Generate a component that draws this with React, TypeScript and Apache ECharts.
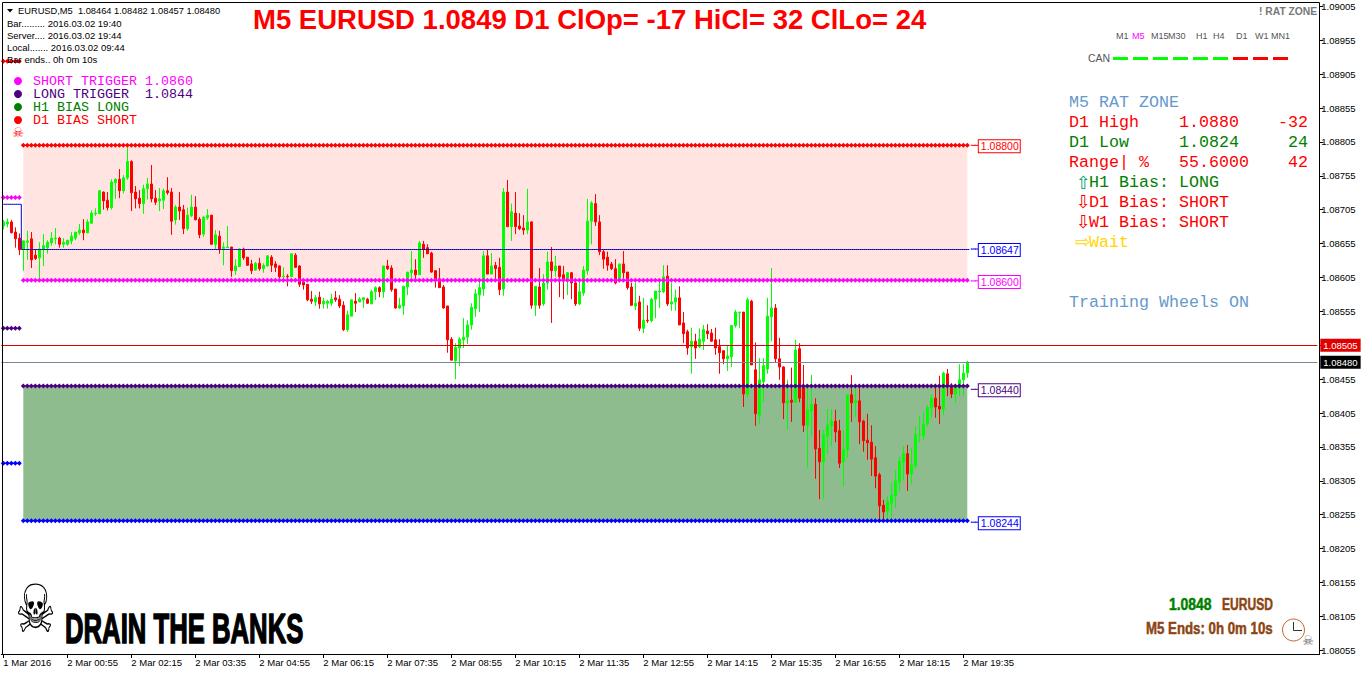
import React, { useEffect, useRef } from "react";
import * as echarts from "echarts";

// Bars as [open, high, low, close] in points (1/100000), EURUSD M5
const ohlcPoints: number[][] = [
[108681,108690,108676,108687],[108684,108692,108679,108687],[108687,108690,108670,108671],[108672,108679,108649,108662],[108663,108670,108638,108646],
[108647,108660,108615,108659],[108657,108674,108631,108659],[108662,108672,108619,108631],[108638,108646,108631,108633],[108634,108657,108604,108647],
[108647,108669,108622,108652],[108649,108660,108640,108657],[108656,108672,108652,108663],[108662,108678,108654,108663],[108663,108665,108649,108654],
[108654,108663,108649,108657],[108654,108660,108652,108660],[108659,108672,108654,108666],[108663,108672,108660,108672],[108671,108684,108668,108675],
[108675,108691,108660,108671],[108671,108691,108670,108687],[108685,108704,108685,108700],[108699,108707,108696,108700],[108699,108734,108699,108733],
[108731,108732,108705,108718],[108719,108731,108704,108708],[108708,108750,108705,108746],[108745,108751,108721,108750],[108750,108765,108722,108733],
[108733,108756,108729,108752],[108752,108797,108749,108776],[108776,108778,108703,108730],[108731,108740,108707,108721],[108722,108734,108707,108714],
[108714,108742,108699,108736],[108736,108752,108720,108743],[108743,108771,108716,108721],[108722,108734,108712,108716],[108718,108737,108703,108721],
[108719,108736,108706,108733],[108733,108753,108727,108730],[108731,108737,108668,108688],[108690,108712,108683,108709],[108709,108731,108690,108703],
[108705,108712,108669,108677],[108677,108708,108674,108697],[108696,108727,108694,108709],[108709,108725,108690,108690],[108691,108694,108663,108668],
[108669,108696,108665,108694],[108693,108706,108690,108697],[108697,108697,108654,108654],[108654,108675,108647,108668],[108666,108674,108640,108647],
[108648,108657,108623,108650],[108649,108681,108649,108650],[108650,108650,108606,108615],[108615,108632,108609,108622],[108621,108648,108621,108647],
[108647,108649,108631,108634],[108635,108635,108622,108623],[108625,108631,108610,108615],[108616,108628,108615,108626],[108626,108634,108615,108618],
[108618,108626,108612,108623],[108622,108638,108621,108637],[108635,108638,108613,108623],[108625,108629,108613,108620],[108622,108623,108604,108606],
[108606,108620,108604,108607],[108607,108610,108592,108606],[108606,108640,108606,108640],[108638,108641,108619,108620],[108622,108623,108591,108595],
[108598,108603,108587,108594],[108595,108595,108570,108572],[108573,108585,108566,108570],[108569,108579,108563,108575],[108576,108584,108559,108566],
[108566,108575,108559,108570],[108567,108572,108559,108570],[108567,108581,108563,108573],[108575,108585,108569,108572],[108573,108579,108560,108563],
[108564,108570,108526,108528],[108528,108556,108525,108550],[108548,108573,108548,108572],[108570,108582,108554,108567],[108569,108576,108569,108573],
[108572,108576,108560,108575],[108573,108575,108566,108567],[108566,108587,108566,108584],[108584,108592,108572,108590],[108590,108592,108576,108584],
[108584,108622,108575,108622],[108622,108631,108616,108618],[108619,108623,108584,108587],[108588,108588,108559,108560],[108560,108575,108559,108564],
[108563,108592,108550,108592],[108591,108613,108579,108613],[108612,108644,108601,108616],[108616,108632,108601,108609],[108609,108659,108609,108656],
[108654,108659,108634,108647],[108649,108654,108640,108640],[108641,108643,108612,108613],[108615,108616,108590,108603],[108603,108619,108590,108590],
[108591,108594,108559,108560],[108563,108563,108494,108513],[108514,108517,108483,108483],[108482,108508,108455,108502],[108501,108517,108474,108514],
[108513,108545,108501,108517],[108517,108542,108507,108535],[108535,108567,108528,108561],[108559,108588,108547,108581],[108579,108603,108554,108590],
[108588,108644,108578,108637],[108637,108646,108610,108610],[108610,108641,108610,108622],[108623,108628,108603,108618],[108620,108634,108579,108587],
[108588,108737,108578,108731],[108731,108749,108680,108680],[108680,108714,108659,108702],[108700,108731,108669,108680],[108681,108700,108675,108677],
[108678,108697,108668,108675],[108675,108736,108669,108687],[108687,108688,108559,108564],[108564,108592,108548,108592],[108591,108619,108559,108564],
[108566,108610,108563,108597],[108597,108643,108587,108628],[108628,108650,108538,108615],[108615,108637,108606,108622],[108622,108622,108576,108606],
[108609,108622,108573,108601],[108603,108613,108579,108612],[108612,108613,108573,108597],[108597,108601,108563,108566],[108566,108598,108564,108584],
[108582,108622,108578,108616],[108615,108721,108609,108688],[108688,108718,108654,108715],[108714,108728,108681,108687],[108687,108697,108638,108643],
[108643,108646,108618,108632],[108635,108643,108615,108623],[108625,108628,108616,108618],[108618,108632,108595,108597],[108603,108625,108601,108625],
[108625,108644,108603,108612],[108613,108613,108587,108590],[108591,108597,108564,108564],[108563,108597,108557,108567],[108569,108578,108526,108530],
[108530,108575,108523,108542],[108542,108564,108538,108541],[108541,108575,108539,108573],[108573,108585,108545,108585],[108584,108603,108560,108585],
[108584,108623,108582,108606],[108607,108623,108563,108566],[108566,108597,108556,108569],[108569,108587,108556,108575],[108575,108592,108535,108535],
[108538,108554,108508,108522],[108525,108528,108491,108501],[108503,108531,108463,108511],[108511,108522,108485,108501],[108503,108530,108501,108514],
[108511,108535,108498,108528],[108526,108536,108514,108522],[108523,108529,108510,108511],[108513,108531,108491,108501],[108503,108514,108463,108494],
[108497,108497,108477,108485],[108485,108504,108467,108489],[108488,108534,108473,108534],[108534,108557,108531,108554],[108553,108554,108530,108554],
[108554,108554,108414,108433],[108433,108575,108429,108572],[108570,108572,108476,108476],[108469,108509,108386,108404],[108402,108486,108389,108454],
[108451,108486,108421,108475],[108470,108575,108463,108548],[108547,108619,108511,108560],[108560,108566,108479,108485],[108485,108516,108454,108473],
[108473,108474,108396,108420],[108420,108454,108381,108423],[108424,108472,108392,108421],[108421,108513,108420,108498],[108500,108508,108421,108427],
[108443,108476,108377,108387],[108387,108443,108324,108410],[108408,108461,108370,108418],[108418,108427,108308,108352],[108353,108380,108278,108333],
[108333,108380,108278,108373],[108371,108411,108345,108387],[108386,108411,108356,108393],[108393,108410,108362,108377],[108379,108395,108324,108331],
[108333,108380,108297,108351],[108351,108433,108339,108432],[108432,108461,108392,108420],[108420,108446,108399,108424],[108423,108442,108359,108392],
[108393,108395,108348,108364],[108365,108404,108336,108361],[108362,108387,108312,108337],[108339,108356,108294,108312],[108314,108317,108247,108268],
[108269,108277,108247,108259],[108260,108282,108247,108274],[108272,108302,108247,108284],[108283,108321,108265,108305],[108303,108341,108289,108334],
[108333,108356,108306,108345],[108345,108358,108290,108315],[108315,108353,108300,108328],[108327,108385,108324,108373],[108373,108401,108362,108374],
[108371,108407,108365,108389],[108389,108417,108386,108413],[108413,108432,108398,108427],[108427,108448,108398,108414],[108415,108460,108389,108411],
[108411,108466,108402,108464],[108463,108470,108430,108445],[108443,108449,108427,108433],[108433,108448,108420,108443],[108442,108477,108430,108454],
[108454,108477,108430,108464],[108464,108482,108457,108480],
];

const timeTickLabels = ["1 Mar 2016","2 Mar 00:55","2 Mar 02:15","2 Mar 03:35","2 Mar 04:55","2 Mar 06:15","2 Mar 07:35","2 Mar 08:55","2 Mar 10:15","2 Mar 11:35","2 Mar 12:55","2 Mar 14:15","2 Mar 15:35","2 Mar 16:55","2 Mar 18:15","2 Mar 19:35"];
const priceTicks = [1.09005,1.08955,1.08905,1.08855,1.08805,1.08755,1.08705,1.08655,1.08605,1.08555,1.08505,1.08455,1.08405,1.08355,1.08305,1.08255,1.08205,1.08155,1.08105,1.08055];

const redZone = [1.088, 1.08601];
const greenZone = [1.08445, 1.08246];
const triggerLevels = [1.088, 1.08601, 1.08445, 1.08246];
const triggerColors = ["#FF0000", "#FF00FF", "#4B0082", "#0000FF"];
const staleLevels = [1.08924, 1.08723, 1.0853, 1.08331];
const staleColors = ["#FF0000", "#FF00FF", "#4B0082", "#0000FF"];
const taggedLevels = [1.088, 1.08647, 1.086, 1.0844, 1.08244];
const taggedColors = ["#FF0000", "#0000FF", "#FF00FF", "#4B0082", "#0000FF"];
const midLine = 1.086463;
const midLineStart = 1.08713;
const askPrice = 1.08505;
const bidPrice = 1.0848;

const BAR_SLOTS = 329;
const TICK_EVERY = 16;
const LAST_TICK = 240;
const ZONE_FIRST = 5;
const ZONE_LAST = ohlcPoints.length - 1;
const TAG_AT = ZONE_LAST + 3;
const slots = Array.from({ length: BAR_SLOTS }, (_, i) => String(i));
const SANS = '"Liberation Sans"';
const MONO = '"Liberation Mono"';

function span(first: number, last: number, value: number) {
  return slots.map((_, i) => (i >= first && i <= last ? value : null));
}

function t(x: number, y: number, text: string, fill: string, font: string, extra: any = {}) {
  const { textAlign, stroke, lineWidth, ...rest } = extra;
  const style: any = { text, fill, font, textAlign: textAlign || "left", textVerticalAlign: "middle" };
  if (stroke) { style.stroke = stroke; style.lineWidth = lineWidth; }
  return { type: "text", x, y, silent: true, z: 20, style, ...rest };
}

const mono13 = `13.33px ${MONO}`;
const mono16 = `16.67px ${MONO}`;
const small = `9.5px ${SANS}`;
const tf = `9px ${SANS}`;
const can = `10.5px ${SANS}`;
const arrow = `18px "DejaVu Sans"`;
const BLUE_TXT = "#6699CC";
const RED = "#FF0000";
const GREEN = "#008000";
const SIENNA = "#8B4513";

const tfLabels = [["M1",1116],["M5",1132],["M15",1151],["M30",1168],["H1",1196],["H4",1213],["D1",1236],["W1",1255],["MN1",1271]] as [string, number][];
const canColors = ["#00FF00","#00FF00","#00FF00","#00FF00","#00FF00","#00FF00","#FF0000","#FF0000","#FF0000"];
const infoLines = ["Bar......... 2016.03.02 19:40","Server.... 2016.03.02 19:44","Local....... 2016.03.02 09:44","Bar ends.. 0h 0m 10s"];
const legendLines = [["SHORT TRIGGER 1.0860","#FF00FF"],["LONG TRIGGER  1.0844","#4B0082"],["H1 BIAS LONG","#008000"],["D1 BIAS SHORT","#FF0000"]];

const graphics: any[] = [
  { type: "line", silent: true, z: 19, shape: { x1: 2.5, y1: 2.5, x2: 2.5, y2: 654 }, style: { stroke: "#000", lineWidth: 1 } },
  { type: "line", silent: true, z: 19, shape: { x1: 2.5, y1: 2.5, x2: 1319.5, y2: 2.5 }, style: { stroke: "#000", lineWidth: 1 } },
  { type: "line", silent: true, z: 19, shape: { x1: 1317, y1: 654.5, x2: 1320, y2: 654.5 }, style: { stroke: "#000", lineWidth: 1 } },
  { type: "polygon", silent: true, z: 20, shape: { points: [[7, 9], [13, 9], [10, 12.5]] }, style: { fill: "#000" } },
  t(18, 10.5, "EURUSD,M5  1.08464 1.08482 1.08457 1.08480", "#000", `9.3px ${SANS}`),
  ...infoLines.map((s, i) => t(7, 23.5 + i * 12, s, "#000", small)),
  ...legendLines.map((row, i) => t(33, 81 + i * 13, row[0], row[1], mono13)),
  ...legendLines.map((row, i) => ({ type: "circle", silent: true, z: 20, shape: { cx: 18, cy: 81 + i * 13, r: 4 }, style: { fill: row[1] } })),
  t(18, 132.5, "\u2620", RED, `13px "DejaVu Sans"`, { textAlign: "center" }),
  t(1259, 11, "! RAT ZONE", "#777", `bold 10.3px ${SANS}`),
  ...tfLabels.map(([s, x]) => t(x, 36, s, s === "M5" ? "#FF00FF" : "#555", tf)),
  t(1088, 58, "CAN", "#555", can),
  ...canColors.map((c, i) => ({ type: "rect", silent: true, z: 20, shape: { x: 1113 + i * 20, y: 57, width: 15, height: 3 }, style: { fill: c } })),
  t(1069, 102.5, "M5 RAT ZONE", BLUE_TXT, mono16),
  t(1069, 122.5, "D1 High", RED, mono16), t(1179, 122.5, "1.0880", RED, mono16), t(1308, 122.5, "-32", RED, mono16, { textAlign: "right" }),
  t(1069, 142.5, "D1 Low", GREEN, mono16), t(1179, 142.5, "1.0824", GREEN, mono16), t(1308, 142.5, "24", GREEN, mono16, { textAlign: "right" }),
  t(1069, 162.5, "Range| %", RED, mono16), t(1179, 162.5, "55.6000", RED, mono16), t(1308, 162.5, "42", RED, mono16, { textAlign: "right" }),
  t(1076, 182, "\u21E7", "#00A070", arrow), t(1089, 182.5, "H1 Bias: LONG", GREEN, mono16),
  t(1076, 201, "\u21E9", RED, arrow), t(1089, 202.5, "D1 Bias: SHORT", RED, mono16),
  t(1076, 221, "\u21E9", RED, arrow), t(1089, 222.5, "W1 Bias: SHORT", RED, mono16),
  t(1075, 241, "\u21E8", "#FFD700", arrow), t(1089, 242.5, "Wait", "#FFD700", mono16),
  t(1069, 302.5, "Training Wheels ON", BLUE_TXT, mono16),
  t(35.5, 609, "\u2620", "#000", `58px "DejaVu Sans"`, { textAlign: "center", scaleX: 0.78, scaleY: 1.15 }),
  t(65, 628, "DRAIN THE BANKS", "#000", `bold 42px ${SANS}`, { scaleX: 0.612, stroke: "#000", lineWidth: 1.5 }),
  t(1169, 604, "1.0848", GREEN, `bold 17px ${SANS}`, { scaleX: 0.82, stroke: GREEN, lineWidth: 0.5 }),
  t(1222, 604, "EURUSD", SIENNA, `bold 17px ${SANS}`, { scaleX: 0.71, stroke: SIENNA, lineWidth: 0.5 }),
  t(1146, 628, "M5 Ends: 0h 0m 10s", SIENNA, `bold 17px ${SANS}`, { scaleX: 0.78, stroke: SIENNA, lineWidth: 0.5 }),
  { type: "circle", silent: true, z: 20, shape: { cx: 1293.5, cy: 630, r: 11 }, style: { fill: "#FFF", stroke: "#C8652A", lineWidth: 1 } },
  { type: "line", silent: true, z: 20, shape: { x1: 1293.5, y1: 630.5, x2: 1293.5, y2: 622 }, style: { stroke: "#333", lineWidth: 1 } },
  { type: "line", silent: true, z: 20, shape: { x1: 1293.5, y1: 630.5, x2: 1302, y2: 630.5 }, style: { stroke: "#333", lineWidth: 1 } },
  t(1308, 640, "\u2620", "#666", `13px "DejaVu Sans"`, { textAlign: "center" }),
];

const dotted = (values: (number | null)[], color: string) => ({
  type: "line" as const,
  data: values,
  silent: true,
  connectNulls: false,
  showSymbol: true,
  showAllSymbol: true,
  symbol: "diamond",
  symbolSize: 5,
  itemStyle: { color },
  lineStyle: { color, width: 1 },
  emphasis: { disabled: true },
  z: 4,
});

const isTick = (i: number) => i % TICK_EVERY === 0 && i <= LAST_TICK;

const option: any = {
  animation: false,
  backgroundColor: "#FFFFFF",
  title: {
    text: "M5 EURUSD 1.0849 D1 ClOp= -17 HiCl= 32 ClLo= 24",
    left: 253,
    top: 5,
    padding: 0,
    textStyle: { color: RED, fontFamily: "Liberation Sans", fontWeight: "bold", fontSize: 27.5 },
  },
  grid: { left: 1.3, width: 1316, top: 3, height: 651, show: false },
  tooltip: { show: false },
  xAxis: {
    type: "category",
    data: slots,
    boundaryGap: true,
    axisLine: { show: true, lineStyle: { color: "#000", width: 1 } },
    axisTick: { show: true, length: 4, alignWithLabel: true, interval: isTick, lineStyle: { color: "#000" } },
    axisLabel: {
      show: true,
      interval: isTick,
      align: "left",
      margin: 3,
      color: "#000",
      fontFamily: "Liberation Sans",
      fontSize: 9.5,
      formatter: (_: string, i: number) => timeTickLabels[i / TICK_EVERY] || "",
    },
    splitLine: { show: false },
  },
  yAxis: {
    type: "value",
    position: "right",
    offset: 2,
    min: 1.080495,
    max: 1.0901,
    scale: true,
    axisLine: { show: true, onZero: false, lineStyle: { color: "#000", width: 1 } },
    axisTick: { show: true, length: 4, customValues: priceTicks, lineStyle: { color: "#000" } },
    axisLabel: {
      show: true,
      customValues: priceTicks,
      margin: 2,
      padding: [2, 0, 0, 0],
      color: "#000",
      fontFamily: "Liberation Sans",
      fontSize: 9.5,
      formatter: (v: number) => v.toFixed(5),
    },
    splitLine: { show: false },
  },
  series: [
    {
      type: "candlestick",
      barWidth: 2,
      silent: true,
      data: ohlcPoints.map(([o, h, l, c]) => [o / 100000, c / 100000, l / 100000, h / 100000]),
      itemStyle: { color: "#00FF00", color0: "#FF0000", borderColor: "#00FF00", borderColor0: "#FF0000", borderWidth: 1 },
      z: 3,
      markArea: {
        silent: true,
        z: 1,
        data: [
          [{ xAxis: ZONE_FIRST, yAxis: redZone[0], itemStyle: { color: "#FFE4E1", opacity: 1 } }, { xAxis: ZONE_LAST, yAxis: redZone[1] }],
          [{ xAxis: ZONE_FIRST, yAxis: greenZone[0], itemStyle: { color: "#8FBC8F", opacity: 1 } }, { xAxis: ZONE_LAST, yAxis: greenZone[1] }],
        ],
      },
      markLine: {
        silent: true,
        symbol: "none",
        precision: 5,
        z: 5,
        data: [
          {
            yAxis: askPrice,
            lineStyle: { color: "#E00000", width: 1, type: "solid" },
            label: { show: true, position: "end", distance: 3, formatter: askPrice.toFixed(5), color: "#FFF", backgroundColor: "#E00000", fontFamily: "Liberation Sans", fontSize: 9.5, padding: [2, 3, 1, 3] },
          },
          {
            yAxis: bidPrice,
            lineStyle: { color: "#778899", width: 1, type: "solid" },
            label: { show: true, position: "end", distance: 3, formatter: bidPrice.toFixed(5), color: "#FFF", backgroundColor: "#000", fontFamily: "Liberation Sans", fontSize: 9.5, padding: [2, 3, 1, 3] },
          },
        ],
      },
    },
    {
      type: "line",
      silent: true,
      step: "middle",
      showSymbol: false,
      data: slots.map((_, i) => (i < ZONE_FIRST ? midLineStart : i <= ZONE_LAST ? midLine : null)),
      lineStyle: { color: "#0000CD", width: 1 },
      z: 4,
    },
    ...triggerLevels.map((v, k) => dotted(span(ZONE_FIRST, ZONE_LAST, v), triggerColors[k])),
    ...staleLevels.map((v, k) => dotted(span(0, 4, v), staleColors[k])),
    ...taggedLevels.map((v, k) => ({
      type: "line" as const,
      silent: true,
      symbol: "rect",
      symbolSize: 1,
      showSymbol: true,
      showAllSymbol: true,
      itemStyle: { color: taggedColors[k] },
      lineStyle: { color: taggedColors[k], width: 1 },
      z: 4,
      data: slots.map((_, i) => {
        if (i < ZONE_LAST + 1 || i > TAG_AT) return null;
        if (i < TAG_AT) return v;
        return {
          value: v,
          label: {
            show: true,
            position: "right",
            distance: 0,
            offset: [-1, 1],
            formatter: v.toFixed(5),
            color: taggedColors[k],
            backgroundColor: "#FFF",
            borderColor: taggedColors[k],
            borderWidth: 1,
            padding: [1, 1, 0, 2],
            fontFamily: "Liberation Sans",
            fontSize: 10.5,
          },
        };
      }),
    })),
  ],
  graphic: { elements: graphics },
};

export default function App() {
  const ref = useRef<HTMLDivElement | null>(null);
  useEffect(() => {
    document.body.style.margin = "0";
    const chart = echarts.init(ref.current!, undefined, { renderer: "svg" });
    chart.setOption(option);
    return () => chart.dispose();
  }, []);
  return <div ref={ref} style={{ width: 1362, height: 675, position: "absolute", left: 0, top: 0 }} />;
}
